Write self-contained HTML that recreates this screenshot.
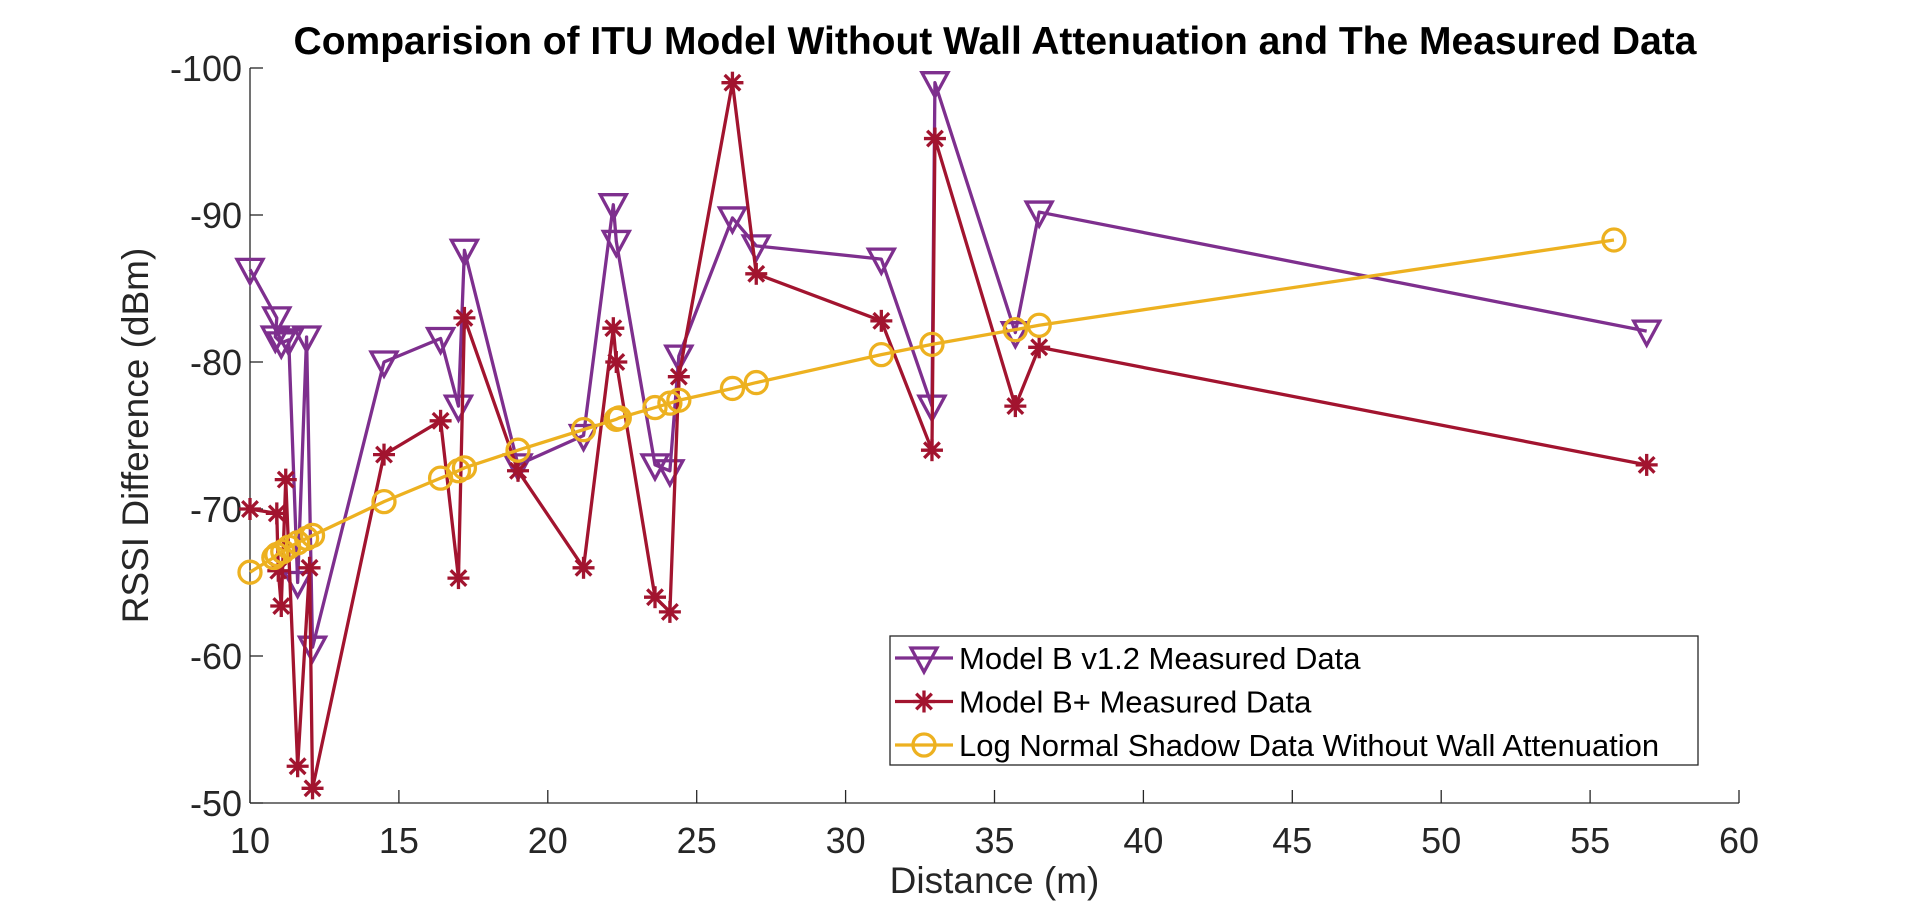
<!DOCTYPE html>
<html><head><meta charset="utf-8"><style>
html,body{margin:0;padding:0;background:#fff;width:1920px;height:911px;overflow:hidden}
svg{display:block;font-family:"Liberation Sans",Arial,sans-serif}
</style></head><body>
<svg id="chart" width="1920" height="911" viewBox="0 0 1920 911" xmlns="http://www.w3.org/2000/svg">
<rect width="1920" height="911" fill="#fff"/>
<text x="995" y="54" font-size="39" font-weight="bold" text-anchor="middle">Comparision of ITU Model Without Wall Attenuation and The Measured Data</text>
<g id="axes"></g>
<g id="series"></g>
<g id="legend">
<rect x="890" y="636" width="808" height="129" fill="#fff" stroke="#262626" stroke-width="1.3"/>
</g>
</svg>
<script>
const purpleX=[10.0,10.9,10.85,11.05,11.3,11.6,11.9,12.1,14.5,16.4,17.0,17.2,19.0,21.2,22.2,22.3,23.6,24.1,24.4,26.2,27.0,31.2,32.9,33.0,35.7,36.5,56.9];
const purpleY=[-86.3,-83,-81.7,-81.3,-81.5,-65,-81.7,-60.6,-80,-81.6,-77,-87.6,-73,-75,-90.7,-88.2,-73,-72.6,-80.4,-89.8,-87.9,-87,-77,-99,-82,-90.2,-82.1];
const redX=[10.0,10.9,10.95,11.05,11.2,11.6,12.0,12.1,14.5,16.4,17.0,17.2,19.0,21.2,22.2,22.3,23.6,24.1,24.4,26.2,27.0,31.2,32.9,33.0,35.7,36.5,56.9];
const redY=[-70,-69.7,-65.8,-63.4,-72,-52.5,-66,-51,-73.7,-76,-65.3,-83,-72.6,-66,-82.3,-80,-64,-63,-79,-99,-86,-82.8,-74,-95.2,-77,-81,-73];
const yelX=[10.0,10.8,10.9,11.1,11.3,11.6,11.9,12.1,14.5,16.4,17.0,17.2,19.0,21.2,22.3,22.4,23.6,24.1,24.4,26.2,27.0,31.2,32.9,35.7,36.5,55.8];
const yelY=[-65.7,-66.7,-66.9,-67.1,-67.4,-67.7,-68.0,-68.2,-70.5,-72.1,-72.6,-72.8,-74.0,-75.4,-76.1,-76.2,-76.9,-77.2,-77.4,-78.2,-78.6,-80.5,-81.2,-82.2,-82.5,-88.3];
const xTicks=[10,15,20,25,30,35,40,45,50,55,60];
const yTicks=[-100,-90,-80,-70,-60,-50];
const legendLabels=["Model B v1.2 Measured Data","Model B+ Measured Data","Log Normal Shadow Data Without Wall Attenuation"];

const NS="http://www.w3.org/2000/svg";
const X0=250,X1=1739,Y0=68,Y1=803;
const sx=v=>X0+(v-10)/(60-10)*(X1-X0);
const sy=v=>Y0+(v-(-100))/(-50-(-100))*(Y1-Y0);
function mk(tag,attrs,parent){const e=document.createElementNS(NS,tag);for(const k in attrs)e.setAttribute(k,attrs[k]);parent.appendChild(e);return e;}
const axes=document.getElementById('axes');
const ser=document.getElementById('series');
const leg=document.getElementById('legend');
let a=mk('line',{x1:X0,y1:Y1,x2:X1,y2:Y1,stroke:'#262626','stroke-width':1.3},axes);


a=mk('line',{x1:X0,y1:Y0,x2:X0,y2:Y1,stroke:'#262626','stroke-width':1.3},axes);


xTicks.forEach(t=>{
 mk('line',{x1:sx(t),y1:Y1,x2:sx(t),y2:Y1-13,stroke:'#262626','stroke-width':1.3},axes);
 const tx=mk('text',{x:sx(t),y:Y1+50,'font-size':36,'text-anchor':'middle',fill:'#262626'},axes);
 tx.textContent=t;
 
 
});
yTicks.forEach(t=>{
 mk('line',{x1:X0,y1:sy(t),x2:X0+13,y2:sy(t),stroke:'#262626','stroke-width':1.3},axes);
 const tx=mk('text',{x:X0-8,y:sy(t)+13,'font-size':36,'text-anchor':'end',fill:'#262626'},axes);
 tx.textContent=t;
 
 
});
let lab=mk('text',{x:(X0+X1)/2,y:893,'font-size':37,'text-anchor':'middle',fill:'#262626'},axes);
lab.textContent='Distance (m)';


lab=mk('text',{x:0,y:0,'font-size':37,'text-anchor':'middle',fill:'#262626',transform:`translate(148,${(Y0+Y1)/2}) rotate(-90)`},axes);
lab.textContent='RSSI Difference (dBm)';



function marker(type,cx,cy,col,g){
 if(type==='tri'){mk('polygon',{points:`${cx-13},${cy-10} ${cx+13},${cy-10} ${cx},${cy+14}`,fill:'none',stroke:col,'stroke-width':3.3},g);}
 else if(type==='star'){const r=11;[0,45,90,135].forEach(an=>{const d=an*Math.PI/180;mk('line',{x1:cx-r*Math.cos(d),y1:cy-r*Math.sin(d),x2:cx+r*Math.cos(d),y2:cy+r*Math.sin(d),stroke:col,'stroke-width':3.3},g);});}
 else {mk('circle',{cx:cx,cy:cy,r:11,fill:'none',stroke:col,'stroke-width':3.3},g);}
}
const defs=[[purpleX,purpleY,'#7E2F8E','tri','purple-series'],[redX,redY,'#A2142F','star','red-series'],[yelX,yelY,'#EDB120','circ','yellow-series']];
defs.forEach(([xs,ys,col,type,name],i)=>{
 const g=mk('g',{},ser);
 
 
 mk('polyline',{points:xs.map((x,j)=>sx(x)+','+sy(ys[j])).join(' '),fill:'none',stroke:col,'stroke-width':3.3,'stroke-linejoin':'round'},g);
 xs.forEach((x,j)=>marker(type,sx(x),sy(ys[j]),col,g));
 const ly=658+i*43.5;
 const lg=mk('g',{},leg);
 
 
 mk('line',{x1:895,y1:ly,x2:953,y2:ly,stroke:col,'stroke-width':3.3},lg);
 marker(type,924,ly,col,lg);
 const t=mk('text',{x:959,y:ly+11,'font-size':31,fill:'#000'},lg);
 t.textContent=legendLabels[i];
});
</script>
</body></html>
